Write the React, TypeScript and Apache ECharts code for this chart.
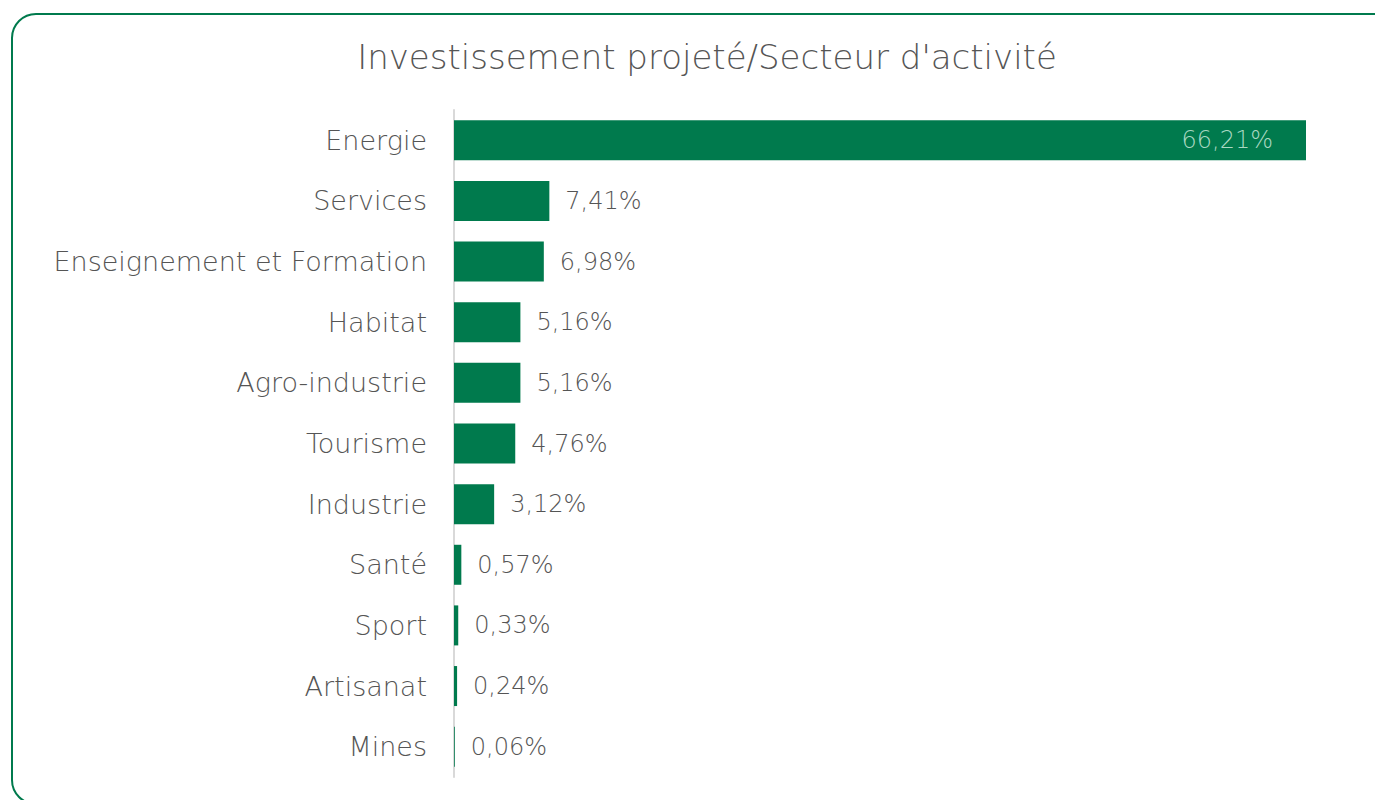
import React, { useEffect, useRef } from "react";
import * as echarts from "echarts";

const categories = [
  "Energie",
  "Services",
  "Enseignement et Formation",
  "Habitat",
  "Agro-industrie",
  "Tourisme",
  "Industrie",
  "Santé",
  "Sport",
  "Artisanat",
  "Mines",
];
const values = [66.21, 7.41, 6.98, 5.16, 5.16, 4.76, 3.12, 0.57, 0.33, 0.24, 0.06];
const title = "Investissement projeté/Secteur d'activité";

const GREEN = "#007a4d";
const FONT = "'DejaVu Sans', sans-serif";

export default function App() {
  const ref = useRef<HTMLDivElement>(null);
  useEffect(() => {
    const chart = echarts.init(ref.current!, null, { renderer: "svg" });
    const fmt = (v: number) => v.toFixed(2).replace(".", ",") + "%";
    chart.setOption({
      animation: false,
      backgroundColor: "#ffffff",
      title: {
        text: title,
        left: 702,
        textAlign: "center",
        top: 35,
        textStyle: { fontFamily: FONT, fontWeight: 200, fontSize: 34, color: "#555555" },
      },
      graphic: [
        {
          type: "rect",
          shape: { x: 12, y: 14, width: 1400, height: 790, r: 24 },
          style: { fill: "none", stroke: GREEN, lineWidth: 2 },
          silent: true,
        },
      ],
      grid: { left: 454, right: 69, top: 110, bottom: 23, containLabel: false },
      xAxis: { type: "value", min: 0, max: 66.21, show: false },
      yAxis: {
        type: "category",
        data: categories,
        inverse: true,
        axisLine: { show: true, lineStyle: { color: "#d9d9d9", width: 2 } },
        axisTick: { show: false },
        axisLabel: {
          margin: 27,
          fontFamily: FONT,
          fontWeight: 200,
          fontSize: 27,
          color: "#555555",
        },
      },
      series: [
        {
          type: "bar",
          data: values.map((v, i) =>
            i === 0
              ? {
                  value: v,
                  label: {
                    position: "insideRight",
                    distance: 33,
                    color: "#a9d8c2",
                  },
                }
              : v
          ),
          barWidth: 40,
          itemStyle: { color: GREEN },
          label: {
            show: true,
            position: "right",
            distance: 16,
            fontFamily: FONT,
            fontWeight: 200,
            fontSize: 24,
            color: "#555555",
            formatter: (p: any) => fmt(p.value),
          },
        },
      ],
    });
    return () => chart.dispose();
  }, []);
  return (
    <div
      ref={ref}
      style={{ position: "absolute", left: 0, top: 0, width: 1375, height: 800 }}
    />
  );
}
